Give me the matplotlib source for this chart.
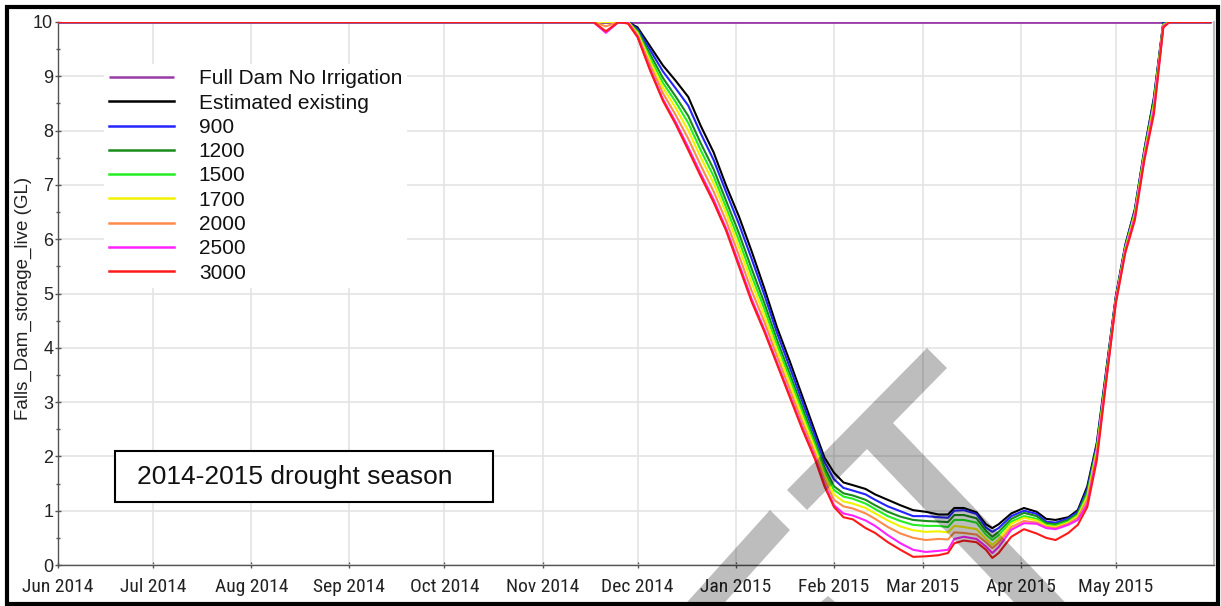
import matplotlib
matplotlib.use("Agg")
import matplotlib.pyplot as plt
import matplotlib.dates as mdates
from matplotlib import font_manager
from matplotlib.patches import Rectangle, Polygon
import numpy as np

# ---------------- data ----------------
dates = ["2014-06-01", "2014-11-17", "2014-11-21", "2014-11-25", "2014-11-28",
         "2014-12-01", "2014-12-05", "2014-12-09", "2014-12-13", "2014-12-17",
         "2014-12-21", "2014-12-25", "2014-12-29", "2015-01-02", "2015-01-06",
         "2015-01-10", "2015-01-14", "2015-01-18", "2015-01-22", "2015-01-26",
         "2015-01-29", "2015-02-01", "2015-02-04", "2015-02-07", "2015-02-11",
         "2015-02-14", "2015-02-18", "2015-02-22", "2015-02-26", "2015-03-02",
         "2015-03-06", "2015-03-09", "2015-03-11", "2015-03-14", "2015-03-18",
         "2015-03-21", "2015-03-23", "2015-03-25", "2015-03-29", "2015-04-02",
         "2015-04-06", "2015-04-09", "2015-04-12", "2015-04-16", "2015-04-19",
         "2015-04-22", "2015-04-25", "2015-04-28", "2015-05-01", "2015-05-04",
         "2015-05-07", "2015-05-10", "2015-05-13", "2015-05-16", "2015-05-18",
         "2015-05-31"]

full_dam_dates = ["2014-06-01", "2015-05-31"]
full_dam = [10, 10]

estimated_existing = [10, 10, 10, 10, 10, 9.9, 9.55, 9.2, 8.92, 8.62,
                      8.08, 7.6, 6.98, 6.42, 5.78, 5.1, 4.38, 3.76, 3.11, 2.46,
                      1.98, 1.7, 1.52, 1.47, 1.4, 1.3, 1.2, 1.1, 1.01, 0.98,
                      0.93, 0.93, 1.05, 1.05, 0.97, 0.75, 0.68, 0.75, 0.95, 1.05,
                      0.98, 0.85, 0.83, 0.88, 1.01, 1.45, 2.25, 3.6, 4.95, 5.9,
                      6.55, 7.65, 8.6, 10, 10, 10]
s900 = [10, 10, 10, 10, 10, 9.87, 9.48, 9.09, 8.78, 8.46,
        7.94, 7.46, 6.86, 6.28, 5.64, 4.98, 4.28, 3.65, 3.01, 2.38,
        1.9, 1.58, 1.42, 1.37, 1.3, 1.2, 1.08, 0.99, 0.9, 0.9,
        0.88, 0.87, 1.0, 1.01, 0.94, 0.69, 0.61, 0.68, 0.9, 1.0,
        0.94, 0.8, 0.78, 0.86, 0.98, 1.4, 2.22, 3.57, 4.93, 5.88,
        6.53, 7.63, 8.57, 9.98, 10, 10]
s1200 = [10, 10, 10, 10, 10, 9.84, 9.4, 8.97, 8.63, 8.27,
         7.76, 7.29, 6.7, 6.11, 5.46, 4.83, 4.15, 3.53, 2.9, 2.28,
         1.8, 1.45, 1.32, 1.28, 1.2, 1.1, 0.98, 0.89, 0.83, 0.81,
         0.8, 0.79, 0.92, 0.92, 0.86, 0.63, 0.52, 0.61, 0.85, 0.96,
         0.9, 0.77, 0.75, 0.83, 0.95, 1.35, 2.17, 3.53, 4.9, 5.86,
         6.5, 7.6, 8.53, 9.96, 10, 10]
s1500 = [10, 10, 10, 10, 10, 9.81, 9.33, 8.88, 8.53, 8.14,
         7.63, 7.16, 6.58, 5.98, 5.33, 4.72, 4.05, 3.44, 2.81, 2.21,
         1.73, 1.38, 1.26, 1.22, 1.13, 1.03, 0.9, 0.81, 0.74, 0.72,
         0.72, 0.7, 0.83, 0.83, 0.78, 0.56, 0.46, 0.55, 0.8, 0.9,
         0.85, 0.74, 0.72, 0.8, 0.92, 1.3, 2.13, 3.5, 4.88, 5.84,
         6.48, 7.58, 8.49, 9.95, 10, 10]
s1700 = [10, 10, 10, 10, 10, 9.79, 9.27, 8.79, 8.42, 8.0,
         7.5, 7.03, 6.47, 5.85, 5.2, 4.6, 3.96, 3.35, 2.73, 2.14,
         1.65, 1.3, 1.17, 1.13, 1.05, 0.95, 0.82, 0.71, 0.64, 0.61,
         0.62, 0.6, 0.72, 0.7, 0.66, 0.48, 0.37, 0.47, 0.76, 0.87,
         0.82, 0.72, 0.7, 0.78, 0.9, 1.25, 2.1, 3.47, 4.87, 5.82,
         6.45, 7.55, 8.45, 9.94, 10, 10]
s2000 = [10, 10, 9.92, 10, 10, 9.76, 9.2, 8.69, 8.29, 7.85,
         7.35, 6.88, 6.33, 5.7, 5.05, 4.48, 3.85, 3.24, 2.63, 2.06,
         1.57, 1.2, 1.08, 1.04, 0.95, 0.85, 0.7, 0.58, 0.5, 0.46,
         0.48, 0.47, 0.6, 0.59, 0.56, 0.42, 0.31, 0.41, 0.7, 0.81,
         0.78, 0.7, 0.68, 0.76, 0.87, 1.2, 2.05, 3.45, 4.86, 5.8,
         6.42, 7.52, 8.4, 9.93, 10, 10]
s2500 = [10, 10, 9.8, 10, 9.98, 9.73, 9.12, 8.58, 8.16, 7.69,
         7.2, 6.73, 6.19, 5.55, 4.9, 4.34, 3.73, 3.13, 2.53, 1.98,
         1.48, 1.1, 0.95, 0.91, 0.82, 0.72, 0.55, 0.4, 0.28, 0.24,
         0.26, 0.28, 0.48, 0.52, 0.48, 0.34, 0.22, 0.33, 0.65, 0.77,
         0.76, 0.68, 0.66, 0.74, 0.83, 1.12, 2.0, 3.43, 4.85, 5.78,
         6.39, 7.49, 8.36, 9.92, 10, 10]
s3000 = [10, 10, 9.83, 10, 9.97, 9.72, 9.1, 8.55, 8.12, 7.64,
         7.15, 6.68, 6.15, 5.5, 4.85, 4.3, 3.7, 3.1, 2.5, 1.95,
         1.45, 1.07, 0.88, 0.84, 0.68, 0.59, 0.42, 0.28, 0.15, 0.16,
         0.18, 0.22, 0.4, 0.45, 0.42, 0.28, 0.13, 0.22, 0.52, 0.66,
         0.58, 0.5, 0.46, 0.59, 0.74, 1.07, 1.93, 3.4, 4.82, 5.75,
         6.35, 7.45, 8.3, 9.9, 10, 10]

series_labels = ["Estimated existing", "900", "1200", "1500", "1700",
                 "2000", "2500", "3000"]
series_values = [estimated_existing, s900, s1200, s1500, s1700, s2000, s2500, s3000]
series_colors = ["#000000", "#2424ff", "#1a8c1a", "#22ee22", "#f2f200",
                 "#ff8a4a", "#ff22ff", "#ff1a1a"]
full_label = "Full Dam No Irrigation"
full_color = "#9a3aa8"

month_ticks = ["2014-06-01", "2014-07-01", "2014-08-01", "2014-09-01", "2014-10-01",
               "2014-11-01", "2014-12-01", "2015-01-01", "2015-02-01", "2015-03-01",
               "2015-04-01", "2015-05-01"]
y_ticks = [0, 1, 2, 3, 4, 5, 6, 7, 8, 9, 10]
y_label = "Falls_Dam_storage_live (GL)"
box_text = "2014-2015 drought season"

# ---------------- fonts ----------------
names = {f.name for f in font_manager.fontManager.ttflist}
xfont, xsize = ["Liberation Sans"], 12.5
for cand, size in [("Liberation Sans Narrow", 13.5), ("Roboto Condensed", 14),
                   ("Open Sans Condensed", 13.5)]:
    if cand in names:
        xfont, xsize = [cand, "Liberation Sans"], size
        break
plt.rcParams["font.family"] = ["Liberation Sans", "DejaVu Sans"]

W, H = 1221, 606
fig = plt.figure(figsize=(W / 100, H / 100), dpi=100)
fig.patch.set_facecolor("white")


def fx(px):
    return px / W


def fy(py):
    return 1 - py / H


ax = fig.add_axes([fx(58), fy(565), fx(1214) - fx(58), fy(22) - fy(565)])

d = np.array(dates, dtype="datetime64[D]")
handles = []
h, = ax.plot(np.array(full_dam_dates, dtype="datetime64[D]"), full_dam,
             color=full_color, lw=2.0, label=full_label, zorder=3,
             solid_capstyle="butt")
handles.append(h)
for vals, lab, col in zip(series_values, series_labels, series_colors):
    h, = ax.plot(d, vals, color=col, lw=1.5, label=lab, zorder=3,
                 solid_joinstyle="round")
    handles.append(h)

ax.set_xlim(np.datetime64("2014-06-01"), np.datetime64("2015-06-01"))
ax.set_ylim(0, 10)
ax.set_yticks(y_ticks)
ax.set_yticks(np.arange(0.5, 10, 1), minor=True)
ax.set_xticks(np.array(month_ticks, dtype="datetime64[D]"))
ax.xaxis.set_major_formatter(mdates.DateFormatter("%b %Y"))

ax.grid(True, which="major", color="#e4e4e4", lw=1.2, zorder=0)
ax.set_axisbelow(True)
ax.spines["top"].set_visible(False)
ax.spines["right"].set_color("#bdbdbd")
ax.spines["right"].set_linewidth(1.5)
ax.spines["left"].set_color("#555555")
ax.spines["bottom"].set_color("#555555")
ax.spines["left"].set_linewidth(1.0)
ax.spines["bottom"].set_linewidth(1.0)

ax.tick_params(axis="y", which="major", direction="inout", length=5, width=1,
               color="#555555", pad=1, labelsize=13)
ax.tick_params(axis="y", which="minor", direction="inout", length=3, width=1,
               color="#555555")
ax.tick_params(axis="x", which="major", direction="inout", length=5, width=1,
               color="#555555", pad=7, labelsize=xsize)
for lbl in ax.get_xticklabels():
    lbl.set_family(xfont)
    lbl.set_color("#222222")
for lbl in ax.get_yticklabels():
    lbl.set_color("#222222")

fig.text(fx(23), fy(298), y_label, rotation=90, ha="center", va="center",
         fontsize=13.5, color="#222222")

leg = ax.legend(handles=handles, loc="upper left",
                bbox_to_anchor=(fx(104), fy(64)), bbox_transform=fig.transFigure,
                borderaxespad=0, borderpad=0.25, handlelength=3.1,
                handletextpad=1.2, labelspacing=0.255, fontsize=15,
                frameon=True, fancybox=False, framealpha=1,
                facecolor="white", edgecolor="none")
leg.set_zorder(5)
for t in leg.get_texts():
    t.set_color("#111111")
for ln in leg.get_lines():
    ln.set_linewidth(1.8)

# drought season box
fig.patches.append(Rectangle((fx(115), fy(502)), fx(493) - fx(115), fy(451) - fy(502),
                             transform=fig.transFigure, facecolor="white",
                             edgecolor="black", lw=1.5, zorder=6))
fig.text(fx(137), fy(477), box_text, fontsize=19, ha="left", va="center",
         color="#111111", zorder=7)

# watermark shapes (decorative)
wm_T = [(787, 490), (927, 348), (947, 368), (893, 423), (1082, 620),
        (1031, 620), (867, 449), (807, 510)]
wm_B = [(770, 510), (790, 530), (709, 620), (671, 620)]
wm_D = [(815, 607), (828, 596), (841, 607)]
for poly in (wm_T, wm_B, wm_D):
    fig.patches.append(Polygon([(fx(x), fy(y)) for x, y in poly], closed=True,
                               transform=fig.transFigure, facecolor="black",
                               alpha=0.26, edgecolor="none", zorder=8))

# outer border
fig.patches.append(Rectangle((fx(7), fy(604)), fx(1218) - fx(7), fy(7) - fy(604),
                             transform=fig.transFigure, facecolor="none",
                             edgecolor="black", lw=3, zorder=9))

fig.savefig("out.png", dpi=100)
